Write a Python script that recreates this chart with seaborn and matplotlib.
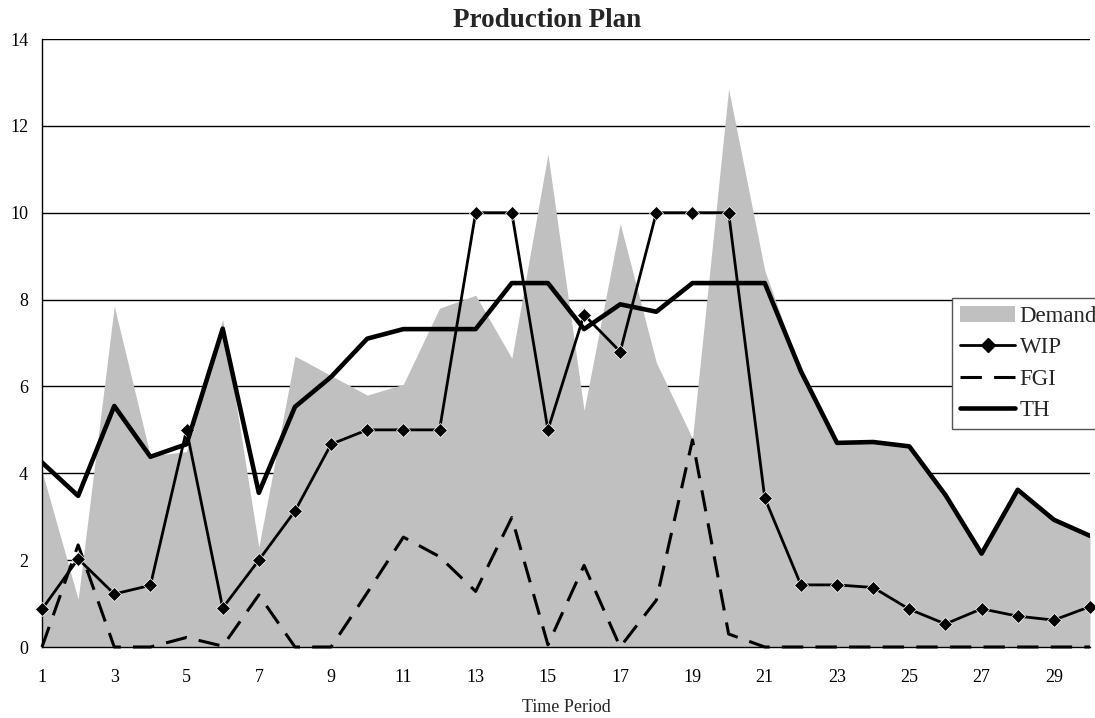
import numpy as np
import matplotlib
matplotlib.use("Agg")
import matplotlib.pyplot as plt
from matplotlib.patches import Patch
from matplotlib.lines import Line2D
import seaborn as sns

# data
period = list(range(1, 31))
demand = [4.05, 1.1, 7.85, 4.4, 4.5, 7.55, 2.3, 6.7, 6.25, 5.8,
          6.05, 7.8, 8.1, 6.65, 11.35, 5.45, 9.75, 6.55, 4.8, 12.85,
          8.67, 6.35, 4.7, 4.72, 4.62, 3.5, 2.15, 3.62, 2.93, 2.56]
wip = [0.87, 2.03, 1.22, 1.42, 5.0, 0.9, 2.0, 3.13, 4.67, 5.0,
       5.0, 5.0, 10.0, 10.0, 5.0, 7.65, 6.8, 10.0, 10.0, 10.0,
       3.43, 1.43, 1.43, 1.37, 0.87, 0.53, 0.88, 0.71, 0.62, 0.93]
fgi = [0.0, 2.35, 0.0, 0.0, 0.22, 0.02, 1.2, 0.0, 0.0, 1.25,
       2.53, 2.08, 1.28, 2.98, 0.05, 1.88, 0.0, 1.08, 4.77, 0.3,
       0.0, 0.0, 0.0, 0.0, 0.0, 0.0, 0.0, 0.0, 0.0, 0.0]
th = [4.25, 3.48, 5.55, 4.38, 4.67, 7.33, 3.55, 5.53, 6.22, 7.1,
      7.32, 7.32, 7.32, 8.38, 8.38, 7.32, 7.89, 7.72, 8.38, 8.38,
      8.38, 6.35, 4.7, 4.72, 4.62, 3.5, 2.15, 3.62, 2.93, 2.56]
yticks = [0, 2, 4, 6, 8, 10, 12, 14]

sns.set_style("white")
plt.rcParams["font.family"] = ["Liberation Serif", "DejaVu Serif"]

fig = plt.figure(figsize=(10.95, 7.18), dpi=100)
ax = fig.add_axes([42 / 1095, 71 / 718, (1090 - 42) / 1095, (647 - 39) / 718])

# demand area
ax.fill_between(period, demand, 0, color="#c0c0c0", linewidth=0, zorder=1)

# lines
sns.lineplot(x=period, y=fgi, ax=ax, color="black", linewidth=2.2,
             linestyle=(0, (7, 4)), zorder=3, clip_on=False)
sns.lineplot(x=period, y=wip, ax=ax, color="black", linewidth=2.0,
             marker="D", markersize=7, markeredgewidth=0.5, zorder=4, clip_on=False)
sns.lineplot(x=period, y=th, ax=ax, color="black", linewidth=3.3, zorder=5)

ax.set_xlim(1, 30)
ax.set_ylim(0, 14)
ax.set_yticks(yticks)
ax.set_xticks(period)
ax.set_xticklabels([str(p) if p % 2 == 1 else "" for p in period])
ax.grid(axis="y", color="black", linewidth=1.0)
ax.grid(axis="x", visible=False)
ax.set_axisbelow(True)

for side in ["top", "right"]:
    ax.spines[side].set_visible(False)
for side in ["left", "bottom"]:
    ax.spines[side].set_color("black")
    ax.spines[side].set_linewidth(1.0)

ax.tick_params(axis="both", direction="out", length=5, width=1, color="#555555",
               labelsize=13, labelcolor="black")
ax.tick_params(axis="x", pad=11)
ax.tick_params(axis="y", pad=5)
ax.set_xlabel("Time Period", fontsize=13, labelpad=9)
ax.set_ylabel("")

fig.text(0.5, 1 - 27 / 718, "Production Plan", ha="center", va="baseline",
         fontsize=19.5, fontweight="bold")

handles = [Patch(facecolor="#c0c0c0", edgecolor="none"),
           Line2D([], [], color="black", linewidth=2.0, marker="D", markersize=7),
           Line2D([], [], color="black", linewidth=2.2, linestyle=(0, (7, 4))),
           Line2D([], [], color="black", linewidth=3.3)]
leg = ax.legend(handles, ["Demand", "WIP", "FGI", "TH"], loc="upper left",
                bbox_to_anchor=(952 / 1095, 1 - 298 / 718), bbox_transform=fig.transFigure,
                borderaxespad=0, fancybox=False, framealpha=1, edgecolor="#555555",
                fontsize=16.5, handlelength=2.4, handletextpad=0.2, labelspacing=0.45,
                borderpad=0.35)
leg.get_frame().set_linewidth(1.0)

fig.savefig("out.png", dpi=100)
